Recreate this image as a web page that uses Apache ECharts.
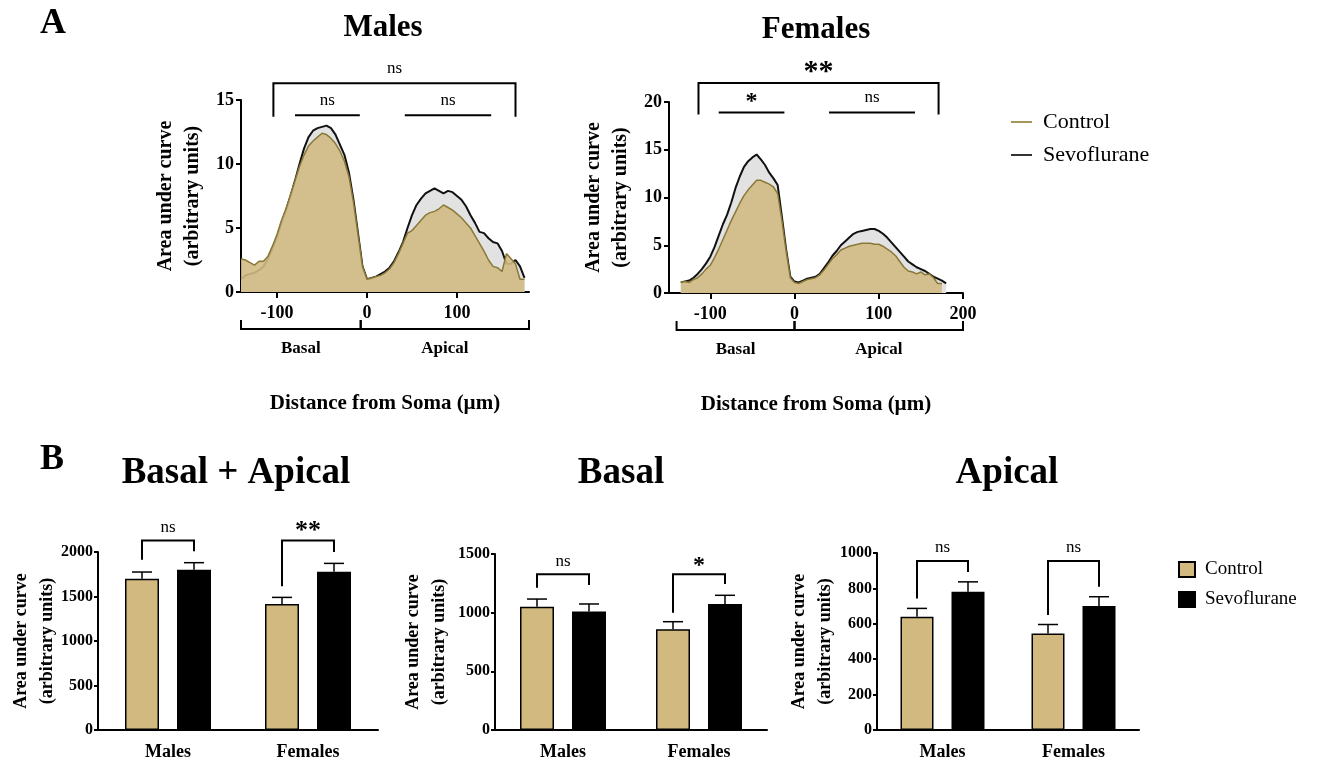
<!DOCTYPE html>
<html>
<head>
<meta charset="utf-8">
<script src="https://cdn.jsdelivr.net/npm/echarts@6/dist/echarts.min.js"></script>
<style>
  html, body { margin: 0; padding: 0; background: #fff; }
  #chart { width: 1330px; height: 764px; }
</style>
</head>
<body>
<div id="chart"></div>
<script>
// ---- Panel A: area under curve along the dendrite ----
const malesDist = [-140, -135, -130, -125, -120, -115, -110, -105, -100, -95, -90, -85, -80, -75, -70, -65,
  -60, -55, -50, -45, -40, -35, -30, -25, -20, -15, -10, -5, 0, 5, 10, 15,
  20, 25, 30, 35, 40, 45, 50, 55, 60, 65, 70, 75, 80, 85, 90, 95,
  100, 105, 110, 115, 120, 125, 130, 135, 140, 145, 150, 155, 160, 165, 170, 175]
const malesControl = [2.6, 2.5, 2.3, 2.1, 2.4, 2.4, 2.8, 3.6, 4.5, 5.6, 6.5, 7.6, 8.7, 9.8, 10.7, 11.4,
  11.8, 12.1, 12.4, 12.3, 12.0, 11.6, 11.0, 10.2, 9.0, 7.0, 4.5, 2.0, 1.0, 1.1, 1.2, 1.3,
  1.5, 1.8, 2.3, 3.0, 3.8, 4.6, 4.8, 5.2, 5.6, 6.0, 6.2, 6.3, 6.5, 6.8, 6.6, 6.4,
  6.1, 5.8, 5.4, 5.0, 4.4, 3.8, 3.2, 2.5, 2.0, 1.9, 1.6, 3.0, 2.6, 2.2, 1.0, 1.0]
const malesSevo = [1.0, 1.3, 1.4, 1.5, 1.7, 2.0, 2.6, 3.4, 4.3, 5.4, 6.4, 7.5, 8.7, 10.0, 11.2, 12.1,
  12.6, 12.8, 12.9, 13.0, 12.8, 12.3, 11.5, 10.7, 9.3, 7.2, 4.6, 2.0, 1.0, 1.1, 1.2, 1.4,
  1.6, 1.9, 2.4, 3.1, 3.9, 5.0, 6.0, 6.8, 7.3, 7.7, 7.9, 8.1, 7.9, 7.7, 7.9, 7.8,
  7.5, 7.2, 6.7, 6.0, 5.4, 4.7, 4.6, 4.2, 3.9, 3.8, 3.2, 2.2, 2.2, 2.5, 2.0, 1.1]

const femalesDist = [-135, -130, -125, -120, -115, -110, -105, -100, -95, -90, -85, -80, -75, -70, -65, -60,
  -55, -50, -45, -40, -35, -30, -25, -20, -15, -10, -5, 0, 5, 10, 15, 20,
  25, 30, 35, 40, 45, 50, 55, 60, 65, 70, 75, 80, 85, 90, 95, 100,
  105, 110, 115, 120, 125, 130, 135, 140, 145, 150, 155, 160, 165, 170, 175, 180]
const femalesControl = [1.1, 1.2, 1.1, 1.4, 1.6, 2.0, 2.5, 2.9, 3.7, 4.6, 5.6, 6.6, 7.6, 8.5, 9.4, 10.2,
  10.8, 11.3, 11.8, 11.8, 11.6, 11.4, 11.1, 10.4, 7.6, 4.4, 1.6, 1.1, 1.0, 1.2, 1.4, 1.5,
  1.6, 1.9, 2.4, 3.0, 3.6, 4.0, 4.5, 4.7, 4.9, 5.0, 5.1, 5.2, 5.2, 5.2, 5.1, 5.1,
  4.9, 4.6, 4.3, 3.9, 3.3, 2.7, 2.3, 2.2, 2.0, 2.2, 1.9, 2.0, 1.6, 1.0, 1.0, null]
const femalesSevo = [1.1, 1.2, 1.3, 1.6, 2.0, 2.5, 3.1, 3.8, 4.8, 6.0, 7.2, 8.2, 9.5, 11.0, 12.2, 13.2,
  13.8, 14.2, 14.5, 14.0, 13.4, 12.6, 12.0, 11.3, 8.0, 4.6, 1.7, 1.2, 1.1, 1.3, 1.5, 1.6,
  1.7, 2.0, 2.6, 3.2, 3.9, 4.4, 5.0, 5.4, 5.8, 6.2, 6.4, 6.5, 6.6, 6.7, 6.7, 6.5,
  6.2, 5.8, 5.3, 4.8, 4.3, 3.8, 3.3, 3.0, 2.7, 2.5, 2.3, 2.0, 1.7, 1.5, 1.3, 1.0]

const distTicks = { males: [-100, 0, 100], females: [-100, 0, 100, 200] }
const regionNames = ['Basal', 'Apical']
const malesRegions = [[-140, -7], [-7, 180]]
const femalesRegions = [[-140, 0], [0, 200]]
// [from, to, y of line, leg end (null = plain line)]
const malesSig = [[-104, 165, 16.3, 13.7], [-80, -8, 13.8, null], [42, 138, 13.8, null]]
const malesSigText = ['ns', 'ns', 'ns']
const femalesSig = [[-114, 171, 22.0, 18.7], [-90, -12, 18.9, null], [41, 143, 18.9, null]]
const femalesSigText = ['**', '*', 'ns']

// ---- Panel B: bars (mean + SEM) ----
const groups = ['Males', 'Females']
const totalControl = [1700, 1415]
const totalControlSem = [75, 75]
const totalSevo = [1800, 1779]
const totalSevoSem = [80, 93]
const basalControl = [1051, 858]
const basalControlSem = [65, 65]
const basalSevo = [1009, 1074]
const basalSevoSem = [65, 74]
const apicalControl = [640, 545]
const apicalControlSem = [47, 51]
const apicalSevo = [781, 700]
const apicalSevoSem = [56, 53]
// [group index, bracket top, left leg end, right leg end]
const totalSig = [[0, 2128, 1914, 2008], [1, 2128, 1614, 2000]]
const totalSigText = ['ns', '**']
const basalSig = [[0, 1327, 1213, 1236], [1, 1327, 1000, 1244]]
const basalSigText = ['ns', '*']
const apicalSig = [[0, 955, 743, 893], [1, 955, 650, 809]]
const apicalSigText = ['ns', 'ns']

const FONT = '"Liberation Serif", "Times New Roman", serif'
const TAN = '#d1b97f'
const BAR_GAP = 18

const pairs = (xs, ys) => xs.map((x, i) => [x, ys[i]])

function sigFont(text, big) {
  if (text === 'ns') return `17px ${FONT}`
  return `bold ${big ? (text.length > 1 ? 30 : 24) : (text.length > 1 ? 26 : 24)}px ${FONT}`
}

function sigText(x, y, text, big) {
  const star = text !== 'ns'
  return {
    type: 'text',
    style: { text, x, y: y + (star ? 4 : 0), align: 'center', verticalAlign: 'middle', font: sigFont(text, big), fill: '#000' }
  }
}

function lineAxis(gi, min, max, ticks) {
  return {
    type: 'value', gridIndex: gi, min, max,
    axisLine: { onZero: false, lineStyle: { color: '#000', width: 2 } },
    axisTick: { customValues: ticks, length: 6, lineStyle: { color: '#000', width: 2 } },
    axisLabel: { customValues: ticks, margin: 12, color: '#000', fontFamily: FONT, fontWeight: 'bold', fontSize: 18 },
    splitLine: { show: false },
    name: 'Distance from Soma (µm)', nameLocation: 'middle', nameGap: 101,
    nameTextStyle: { color: '#000', fontFamily: FONT, fontWeight: 'bold', fontSize: 21 }
  }
}

function valueAxis(gi, max, interval, fontSize, tickLen, labelMargin, nameSize, nameGap, lineHeight) {
  return {
    type: 'value', gridIndex: gi, min: 0, max, interval,
    axisLine: { show: true, onZero: false, lineStyle: { color: '#000', width: 2 } },
    axisTick: { show: true, length: tickLen, lineStyle: { color: '#000', width: 2 } },
    axisLabel: { margin: labelMargin, color: '#000', fontFamily: FONT, fontWeight: 'bold', fontSize, formatter: v => String(v) },
    splitLine: { show: false },
    name: 'Area under curve\n(arbitrary units)', nameLocation: 'middle', nameGap, nameMoveOverlap: false,
    nameTextStyle: { color: '#000', fontFamily: FONT, fontWeight: 'bold', fontSize: nameSize, lineHeight }
  }
}

function catAxis(gi) {
  return {
    type: 'category', gridIndex: gi, data: groups,
    axisLine: { onZero: false, lineStyle: { color: '#000', width: 2 } },
    axisTick: { alignWithLabel: true, length: 7, lineStyle: { color: '#000', width: 2 } },
    axisLabel: { margin: 13, color: '#000', fontFamily: FONT, fontWeight: 'bold', fontSize: 18 }
  }
}

function areaSeries(ai, name, dist, values, control) {
  return {
    type: 'line', name, xAxisIndex: ai, yAxisIndex: ai, data: pairs(dist, values),
    symbol: 'none', z: control ? 3 : 2, silent: true,
    lineStyle: { color: control ? '#8a7836' : '#111', width: control ? 1.5 : 2 },
    itemStyle: { color: control ? '#a8955a' : '#333' },
    areaStyle: { color: control ? '#d2bb84' : '#e2e2e2', opacity: control ? 0.9 : 1 }
  }
}

function regionSeries(ai, regions) {
  return {
    type: 'custom', xAxisIndex: ai, yAxisIndex: ai, silent: true, clip: false,
    data: regions.map(r => [r[0], 0, r[1]]),
    renderItem(params, api) {
      const a = api.coord([api.value(0), 0])
      const b = api.coord([api.value(2), 0])
      const y = a[1] + 37
      return {
        type: 'group', children: [
          { type: 'polyline', shape: { points: [[a[0], y - 9], [a[0], y], [b[0], y], [b[0], y - 9]] },
            style: { stroke: '#000', lineWidth: 2, fill: null } },
          { type: 'text', style: { text: regionNames[params.dataIndex], x: (a[0] + b[0]) / 2, y: y + 20,
            align: 'center', verticalAlign: 'middle', font: `bold 17px ${FONT}`, fill: '#000' } }
        ]
      }
    }
  }
}

function lineSigSeries(ai, sig, texts) {
  return {
    type: 'custom', xAxisIndex: ai, yAxisIndex: ai, silent: true, clip: false,
    data: sig.map(s => [s[0], s[2]]),
    renderItem(params, api) {
      const s = sig[params.dataIndex]
      const a = api.coord([s[0], s[2]])
      const b = api.coord([s[1], s[2]])
      let points = [a, b]
      if (s[3] !== null) {
        const leg = api.coord([s[0], s[3]])[1]
        points = [[a[0], leg], a, b, [b[0], leg]]
      }
      return {
        type: 'group', children: [
          { type: 'polyline', shape: { points }, style: { stroke: '#000', lineWidth: 2, fill: null } },
          sigText((a[0] + b[0]) / 2, a[1] - 15, texts[params.dataIndex], true)
        ]
      }
    }
  }
}

function barSeries(gi, name, values, barW, control) {
  return {
    type: 'bar', name, xAxisIndex: gi, yAxisIndex: gi, data: values, silent: true,
    barWidth: barW, barGap: (BAR_GAP / barW * 100) + '%',
    itemStyle: { color: control ? TAN : '#000', borderColor: '#000', borderWidth: 1.5 }
  }
}

function errorSeries(gi, means, sems, barW, side) {
  return {
    type: 'custom', xAxisIndex: gi, yAxisIndex: gi, silent: true, clip: false, z: 5,
    data: means.map((m, i) => [i, m, m + sems[i]]),
    renderItem(params, api) {
      const c = api.coord([api.value(0), api.value(1)])
      const t = api.coord([api.value(0), api.value(2)])
      const x = c[0] + side * (barW + BAR_GAP) / 2
      return {
        type: 'group', children: [
          { type: 'line', shape: { x1: x, y1: c[1], x2: x, y2: t[1] }, style: { stroke: '#000', lineWidth: 1.5 } },
          { type: 'line', shape: { x1: x - 10, y1: t[1], x2: x + 10, y2: t[1] }, style: { stroke: '#000', lineWidth: 1.5 } }
        ]
      }
    }
  }
}

function barSigSeries(gi, sig, texts, barW) {
  return {
    type: 'custom', xAxisIndex: gi, yAxisIndex: gi, silent: true, clip: false,
    data: sig.map(s => [s[0], s[1]]),
    renderItem(params, api) {
      const s = sig[params.dataIndex]
      const top = api.coord([s[0], s[1]])
      const off = (barW + BAR_GAP) / 2
      const lx = top[0] - off
      const rx = top[0] + off
      const ly = api.coord([s[0], s[2]])[1]
      const ry = api.coord([s[0], s[3]])[1]
      return {
        type: 'group', children: [
          { type: 'polyline', shape: { points: [[lx, ly], [lx, top[1]], [rx, top[1]], [rx, ry]] },
            style: { stroke: '#000', lineWidth: 2, fill: null } },
          sigText(top[0], top[1] - 13, texts[params.dataIndex], false)
        ]
      }
    }
  }
}

function label(text, x, y, size) {
  return { type: 'text', x, y, silent: true,
    style: { text, align: 'center', verticalAlign: 'middle', font: `bold ${size}px ${FONT}`, fill: '#000' } }
}

const chart = echarts.init(document.getElementById('chart'))

chart.setOption({
  animation: false,
  graphic: [
    label('A', 53, 24, 36),
    label('B', 52, 460, 36),
    label('Males', 383, 28, 31),
    label('Females', 816, 30, 31),
    label('Basal + Apical', 236, 473, 37),
    label('Basal', 621, 473, 37),
    label('Apical', 1007, 473, 37)
  ],
  legend: [
    {
      data: ['Control', 'Sevoflurane'], orient: 'vertical', left: 1006, top: 106,
      icon: 'rect', itemWidth: 21, itemHeight: 2, itemGap: 11, selectedMode: false,
      textStyle: { color: '#000', fontFamily: FONT, fontSize: 22, padding: [0, 0, 0, 6] }
    },
    {
      data: ['Control_B', 'Sevoflurane_B'], orient: 'vertical', left: 1173, top: 555,
      formatter: n => n.replace('_B', ''),
      icon: 'rect', itemWidth: 16, itemHeight: 15, itemGap: 11, selectedMode: false,
      textStyle: { color: '#000', fontFamily: FONT, fontSize: 19, padding: [0, 0, 0, 5] }
    }
  ],
  grid: [
    { left: 241, top: 100, width: 288, height: 192 },
    { left: 669, top: 102, width: 294, height: 191 },
    { left: 98, top: 552, width: 280, height: 178 },
    { left: 495, top: 554, width: 272, height: 176 },
    { left: 877, top: 553, width: 262, height: 177 }
  ],
  xAxis: [
    lineAxis(0, -140, 180, distTicks.males),
    lineAxis(1, -149, 200, distTicks.females),
    catAxis(2), catAxis(3), catAxis(4)
  ],
  yAxis: [
    valueAxis(0, 15, 5, 18, 5, 7, 20, 35, 27),
    valueAxis(1, 20, 5, 18, 5, 7, 20, 35, 27),
    valueAxis(2, 2000, 500, 16, 4, 5, 18, 38, 26),
    valueAxis(3, 1500, 500, 16, 4, 5, 18, 43, 26),
    valueAxis(4, 1000, 200, 16, 4, 5, 18, 39, 26)
  ],
  series: [
    areaSeries(0, 'Sevoflurane', malesDist, malesSevo, false),
    areaSeries(0, 'Control', malesDist, malesControl, true),
    areaSeries(1, 'Sevoflurane', femalesDist, femalesSevo, false),
    areaSeries(1, 'Control', femalesDist, femalesControl, true),
    regionSeries(0, malesRegions),
    regionSeries(1, femalesRegions),
    lineSigSeries(0, malesSig, malesSigText),
    lineSigSeries(1, femalesSig, femalesSigText),

    barSeries(2, 'Control_B', totalControl, 34, true),
    barSeries(2, 'Sevoflurane_B', totalSevo, 34, false),
    errorSeries(2, totalControl, totalControlSem, 34, -1),
    errorSeries(2, totalSevo, totalSevoSem, 34, 1),
    barSigSeries(2, totalSig, totalSigText, 34),

    barSeries(3, 'Control_B', basalControl, 34, true),
    barSeries(3, 'Sevoflurane_B', basalSevo, 34, false),
    errorSeries(3, basalControl, basalControlSem, 34, -1),
    errorSeries(3, basalSevo, basalSevoSem, 34, 1),
    barSigSeries(3, basalSig, basalSigText, 34),

    barSeries(4, 'Control_B', apicalControl, 33, true),
    barSeries(4, 'Sevoflurane_B', apicalSevo, 33, false),
    errorSeries(4, apicalControl, apicalControlSem, 33, -1),
    errorSeries(4, apicalSevo, apicalSevoSem, 33, 1),
    barSigSeries(4, apicalSig, apicalSigText, 33)
  ]
})
</script>
</body>
</html>
